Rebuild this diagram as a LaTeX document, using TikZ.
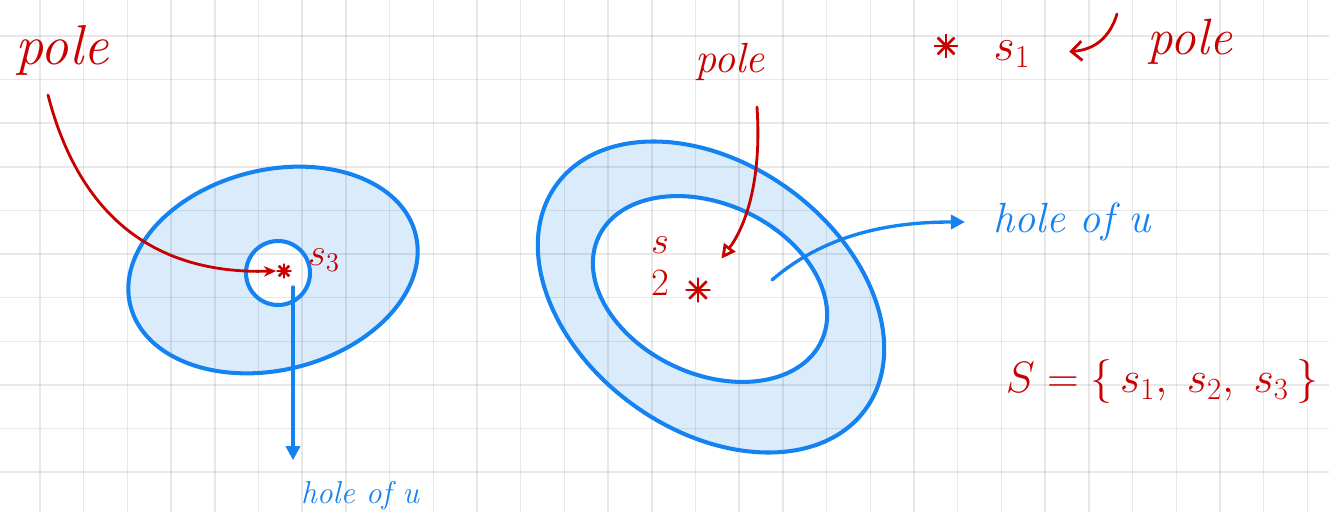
\RequirePackage{fix-cm}
\documentclass[tikz,border=0pt]{standalone}
\usetikzlibrary{arrows.meta}
\definecolor{redink}{RGB}{200,0,0}
\definecolor{blueink}{RGB}{20,130,240}
\definecolor{bluewash}{RGB}{218,236,252}
\newcommand{\inksize}[1]{\fontsize{#1}{#1}\selectfont}
\tikzset{
  redtext/.style={text=redink,inner sep=0pt,font=\itshape\inksize{#1}},
  bluetext/.style={text=blueink,inner sep=0pt,font=\itshape\inksize{#1}},
  starmark/.style={circle,inner sep=0pt,minimum size=#1,
    path picture={\foreach \a in {0,45,90,135}
      {\draw[redink,line width=1.6pt] (path picture bounding box.center) ++(\a:#1) -- ++(\a+180:2*#1);}}},
  redarrow/.style={draw=redink,line width=1.6pt,line cap=round},
  bluearrow/.style={draw=blueink,line width=1.9pt,line cap=round,-{Triangle[length=8pt,width=8pt]}},
  rim/.style={draw=blueink,line width=2.3pt},
  gridline/.style={draw=black,opacity=0.09,line width=0.8pt}
}
\begin{document}
\begin{tikzpicture}[scale=2]
\useasboundingbox (0,0) rectangle (13.29,5.12);
% washes first, grid over them
\fill[bluewash] (2.73,2.42) ellipse[x radius=1.47,y radius=1.00,rotate=14];
\fill[white] (2.78,2.39) circle[radius=0.32];
\fill[bluewash] (7.11,2.15) ellipse[x radius=1.91,y radius=1.33,rotate=-36];
\fill[white] (7.10,2.23) ellipse[x radius=1.23,y radius=0.85,rotate=-25];
\foreach \i in {0,...,29} {\draw[gridline] ({0.40+0.437*\i},0) -- ++(0,5.12);}
\foreach \j in {0,...,10} {\draw[gridline] (0,{4.76-0.436*\j}) -- ++(13.29,0);}
% left: disc with one hole
\begin{scope}
\draw[rim] (2.73,2.42) ellipse[x radius=1.47,y radius=1.00,rotate=14];
\draw[rim] (2.78,2.39) circle[radius=0.32];
\node[redtext=32] (lpole) at (0.62,4.62) {pole};
\node[starmark=0.30cm] (lstar) at (2.84,2.41) {};
\node[redtext=22] (lsthree) at (3.24,2.52) {$s_3$};
\node[bluetext=18] (lhole) at (3.60,0.16) {hole of u};
\coordinate (ltail) at (0.48,4.17);
\coordinate (lholetail) at (2.93,2.25);
\draw[redarrow,-{Stealth[length=7pt,width=6pt]}] (ltail) .. controls (0.75,3.12) and (1.40,2.37) .. (lstar.west);
\draw[bluearrow,shorten >=12pt] (lholetail) -- (lholetail |- lhole.north);
\end{scope}
% middle: annulus
\begin{scope}
\draw[rim] (7.11,2.15) ellipse[x radius=1.91,y radius=1.33,rotate=-36];
\draw[rim] (7.10,2.23) ellipse[x radius=1.23,y radius=0.85,rotate=-25];
\node[redtext=24] (mpole) at (7.30,4.50) {pole};
\node[starmark=0.50cm] (mstar) at (6.98,2.22) {};
\node[redtext=22,align=center] (mstwo) at (6.60,2.46) {$s$\\[2pt]$2$};
\node[bluetext=24] (mhole) at (10.72,2.90) {hole of u};
\coordinate (mtail) at (7.57,4.05);
\coordinate (mholetail) at (7.72,2.32);
\draw[redarrow,-{Triangle[open,length=8pt,width=8pt]},shorten >=15pt] (mtail) .. controls (7.62,3.30) and (7.45,2.85) .. (mstar);
\draw[bluearrow,shorten >=16pt] (mholetail) .. controls (8.30,2.82) and (9.00,2.90) .. (mhole.west);
\end{scope}
% right: notes
\node[starmark=0.48cm] (rstar) at (9.46,4.66) {};
\node[redtext=26] (rsone) at (10.12,4.58) {$s_1$};
\node[redtext=29] (rpole) at (11.90,4.70) {pole};
\coordinate (rtail) at (11.17,4.98);
\draw[redarrow,-{Straight Barb[length=6pt,width=11pt]},shorten >=22pt] (rtail) .. controls (11.10,4.75) and (10.95,4.62) .. (rsone.east);
\node[redtext=25] (sset) at (11.62,1.30) {$S = \{\,s_1,\; s_2,\; s_3\,\}$};
\end{tikzpicture}
\end{document}
